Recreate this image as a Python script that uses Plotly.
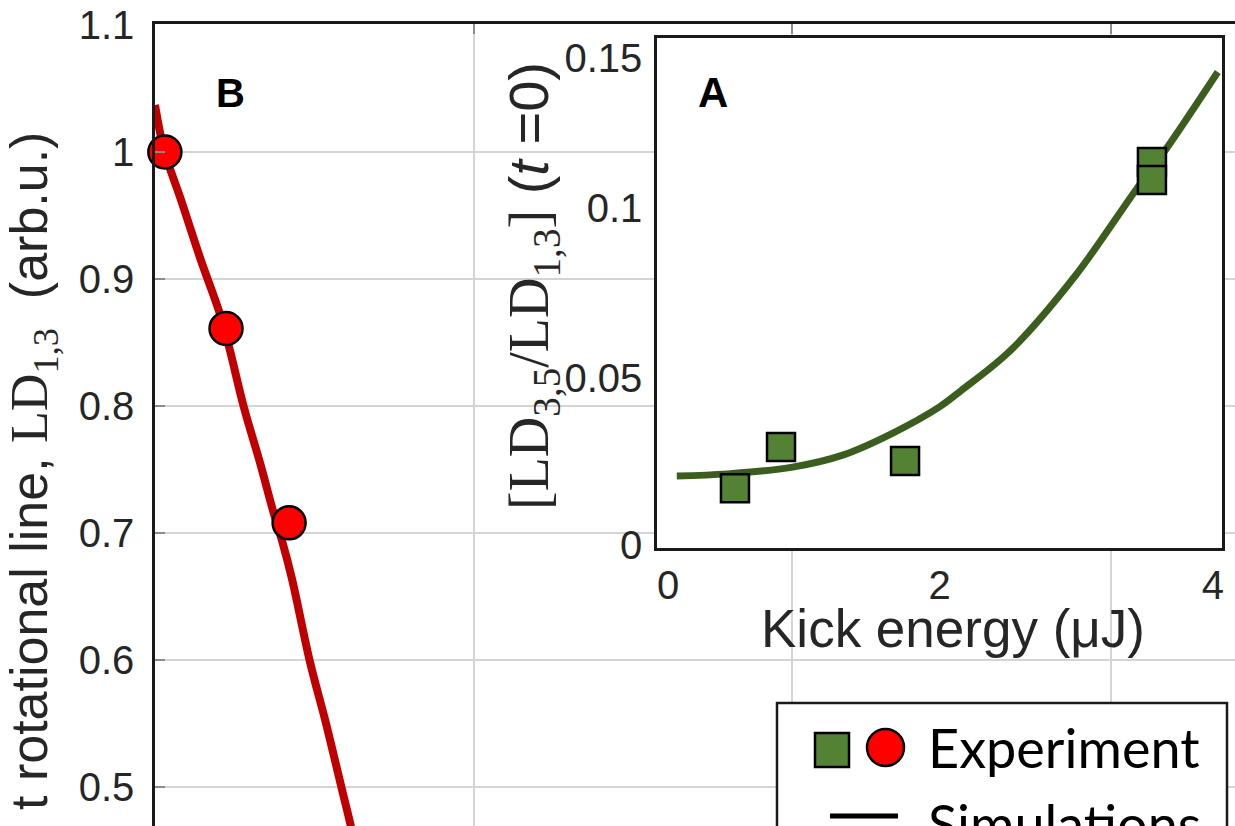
import plotly.graph_objects as go

# ---------------- data ----------------
# Main panel B: simulation line and experimental points
b_sim_x = [0.0, 0.028, 0.082, 0.141, 0.207, 0.235, 0.279, 0.330, 0.370, 0.402, 0.430, 0.487, 0.537, 0.587, 0.615, 0.631]
b_sim_y = [1.037, 1.002, 0.962, 0.917, 0.870, 0.844, 0.799, 0.755, 0.718, 0.691, 0.664, 0.598, 0.550, 0.498, 0.469, 0.450]
b_exp_x = [0.031, 0.223, 0.421]
b_exp_y = [1.0, 0.861, 0.708]
b_yticks = [0.5, 0.6, 0.7, 0.8, 0.9, 1.0, 1.1]
b_yticktext = ["0.5", "0.6", "0.7", "0.8", "0.9", "1", "1.1"]
b_xticks = [0, 1, 2, 3]

# Inset panel A: ratio vs kick energy
a_sim_x = [0.14, 0.5, 0.96, 1.32, 1.67, 2.0, 2.15, 2.5, 2.96, 3.4, 3.6, 3.97]
a_sim_y = [0.0212, 0.0218, 0.0238, 0.0274, 0.0338, 0.0415, 0.0462, 0.058, 0.080, 0.1059, 0.1171, 0.140]
a_exp_x = [0.552, 0.878, 1.756, 3.504, 3.504]
a_exp_y = [0.0176, 0.0297, 0.0256, 0.1135, 0.1082]
a_xgrid = [2]
a_xlabel_pos = [0.078, 2, 3.936]
a_xticktext = ["0", "2", "4"]
a_ygrid = [0.05, 0.1]
a_ylabel_pos = [0.0009, 0.05, 0.1, 0.1441]
a_yticktext = ["0", "0.05", "0.1", "0.15"]

# ---------------- styling ----------------
W, H = 1235, 826
ML, MT = 155, 24
PW, PH = W - ML, H - MT


def px(x):
    return (x - ML) / PW


def py(y):
    return (H - y) / PH


SANS = "Liberation Sans"
LEG = "Lato"
TXT = "#262626"
GRID = "#d4d4d4"
TICK = "#8c8c8c"
LINE = "#1a1a1a"

fig = go.Figure()

fig.add_trace(go.Scatter(x=b_sim_x, y=b_sim_y, mode="lines", line=dict(color="#c00000", width=8, shape="spline"),
                         xaxis="x", yaxis="y", showlegend=False, hoverinfo="skip"))
fig.add_trace(go.Scatter(x=b_exp_x, y=b_exp_y, mode="markers",
                         marker=dict(symbol="circle", size=33, color="#ff0000", line=dict(color="black", width=2.5)),
                         xaxis="x", yaxis="y", showlegend=False, cliponaxis=False))

fig.add_trace(go.Scatter(x=a_sim_x, y=a_sim_y, mode="lines", line=dict(color="#3b5e1f", width=7, shape="spline"),
                         xaxis="x2", yaxis="y2", showlegend=False))
fig.add_trace(go.Scatter(x=a_exp_x, y=a_exp_y, mode="markers",
                         marker=dict(symbol="square", size=28, color="#548235", line=dict(color="black", width=2.5)),
                         xaxis="x2", yaxis="y2", showlegend=False))

inset_x0, inset_x1 = px(657), px(1222)
inset_y0, inset_y1 = py(548), py(38)
b_yrange = [0.5 - 39 / 1270, 0.5 + 763 / 1270]

fig.update_layout(
    width=W, height=H,
    margin=dict(l=ML, r=0, t=MT, b=0, autoexpand=False),
    paper_bgcolor="white", plot_bgcolor="white",
    showlegend=False,
    xaxis=dict(domain=[0, 1], range=[0, PW / 318.5], tickvals=b_xticks, side="top",
               showgrid=True, gridcolor=GRID, gridwidth=1.5, zeroline=False,
               showline=True, linecolor=LINE, linewidth=2.5, mirror=False,
               ticks="inside", ticklen=10, tickcolor=TICK, tickwidth=2,
               showticklabels=False, automargin=False),
    yaxis=dict(domain=[0, 1], range=b_yrange, tickvals=b_yticks, ticktext=b_yticktext,
               showgrid=True, gridcolor=GRID, gridwidth=1.5, zeroline=False,
               showline=True, linecolor=LINE, linewidth=2.5, mirror=False,
               ticks="inside", ticklen=10, tickcolor=TICK, tickwidth=2,
               tickfont=dict(family=SANS, size=40, color=TXT), ticklabelstandoff=10,
               automargin=False),
    yaxis3=dict(overlaying="y", side="right", anchor="x", range=b_yrange,
                tickvals=b_yticks, showgrid=False, zeroline=False, showline=False,
                ticks="inside", ticklen=10, tickcolor=TICK, tickwidth=2, showticklabels=False),
    # inset: labels axis
    xaxis2=dict(domain=[inset_x0, inset_x1], anchor="y2", range=[0, 4], tickvals=a_xlabel_pos, ticktext=a_xticktext,
                showgrid=False, zeroline=False,
                showline=True, linecolor=LINE, linewidth=2.5, mirror=True, ticks="",
                tickfont=dict(family=SANS, size=40, color=TXT), automargin=False),
    yaxis2=dict(domain=[inset_y0, inset_y1], anchor="x2", range=[0, 0.15], tickvals=a_ylabel_pos, ticktext=a_yticktext,
                showgrid=False, zeroline=False,
                showline=True, linecolor=LINE, linewidth=2.5, mirror=True, ticks="",
                tickfont=dict(family=SANS, size=40, color=TXT), ticklabelstandoff=4, automargin=False),
    # inset: grid / tick axes
    xaxis4=dict(overlaying="x2", anchor="y2", range=[0, 4], tickvals=a_xgrid, showticklabels=False,
                showgrid=True, gridcolor=GRID, gridwidth=1.5, zeroline=False,
                showline=False, mirror="ticks", ticks="inside", ticklen=6, tickcolor=TICK, tickwidth=2),
    yaxis4=dict(overlaying="y2", anchor="x2", range=[0, 0.15], tickvals=a_ygrid, showticklabels=False,
                showgrid=True, gridcolor=GRID, gridwidth=1.5, zeroline=False,
                showline=False, mirror="ticks", ticks="inside", ticklen=6, tickcolor=TICK, tickwidth=2),
)

# legend box (drawn manually)
fig.add_shape(type="rect", xref="paper", yref="paper", x0=px(777), x1=px(1227), y0=py(880), y1=py(703),
              fillcolor="white", line=dict(color=LINE, width=2.5), layer="above")
fig.add_shape(type="rect", xref="paper", yref="paper", x0=px(815), x1=px(849), y0=py(767), y1=py(733),
              fillcolor="#548235", line=dict(color="black", width=2.5), layer="above")
fig.add_shape(type="circle", xref="paper", yref="paper", x0=px(867), x1=px(904), y0=py(766), y1=py(729),
              fillcolor="#ff0000", line=dict(color="black", width=2.5), layer="above")
fig.add_shape(type="line", xref="paper", yref="paper", x0=px(830), x1=px(898), y0=py(816), y1=py(816),
              line=dict(color="black", width=5), layer="above")

annotations = [
    dict(text="Experiment", x=px(926), y=py(747), xanchor="left", yanchor="middle",
         font=dict(family=LEG, size=54, color="black")),
    dict(text="Simulations", x=px(926), y=py(823), xanchor="left", yanchor="middle",
         font=dict(family=LEG, size=54, color="black")),
    dict(text="<b>B</b>", x=px(230), y=py(93), xanchor="center", yanchor="middle",
         font=dict(family=SANS, size=40, color="black")),
    dict(text="<b>A</b>", x=px(713), y=py(92), xanchor="center", yanchor="middle",
         font=dict(family=SANS, size=42, color="black")),
    dict(text="Kick energy (μJ)", x=px(953), y=py(628), xanchor="center", yanchor="middle",
         font=dict(family=SANS, size=53, color=TXT)),
    dict(text="<span style=\"font-family:'Liberation Serif'\">[LD<sub>3,5</sub>/LD<sub>1,3</sub>]</span> (<i>t</i> =0)",
         x=px(532), y=py(286), xanchor="center", yanchor="middle", textangle=-90,
         font=dict(family=SANS, size=56, color=TXT)),
    dict(text="t rotational line, <span style=\"font-family:'Liberation Serif'\">LD<sub>1,3</sub></span>  (arb.u.)",
         x=px(33), y=py(130), xanchor="center", yanchor="top", textangle=-90,
         font=dict(family=SANS, size=52, color=TXT)),
]
for a in annotations:
    a.update(xref="paper", yref="paper", showarrow=False)
fig.update_layout(annotations=annotations)

fig.write_html("out.html")
